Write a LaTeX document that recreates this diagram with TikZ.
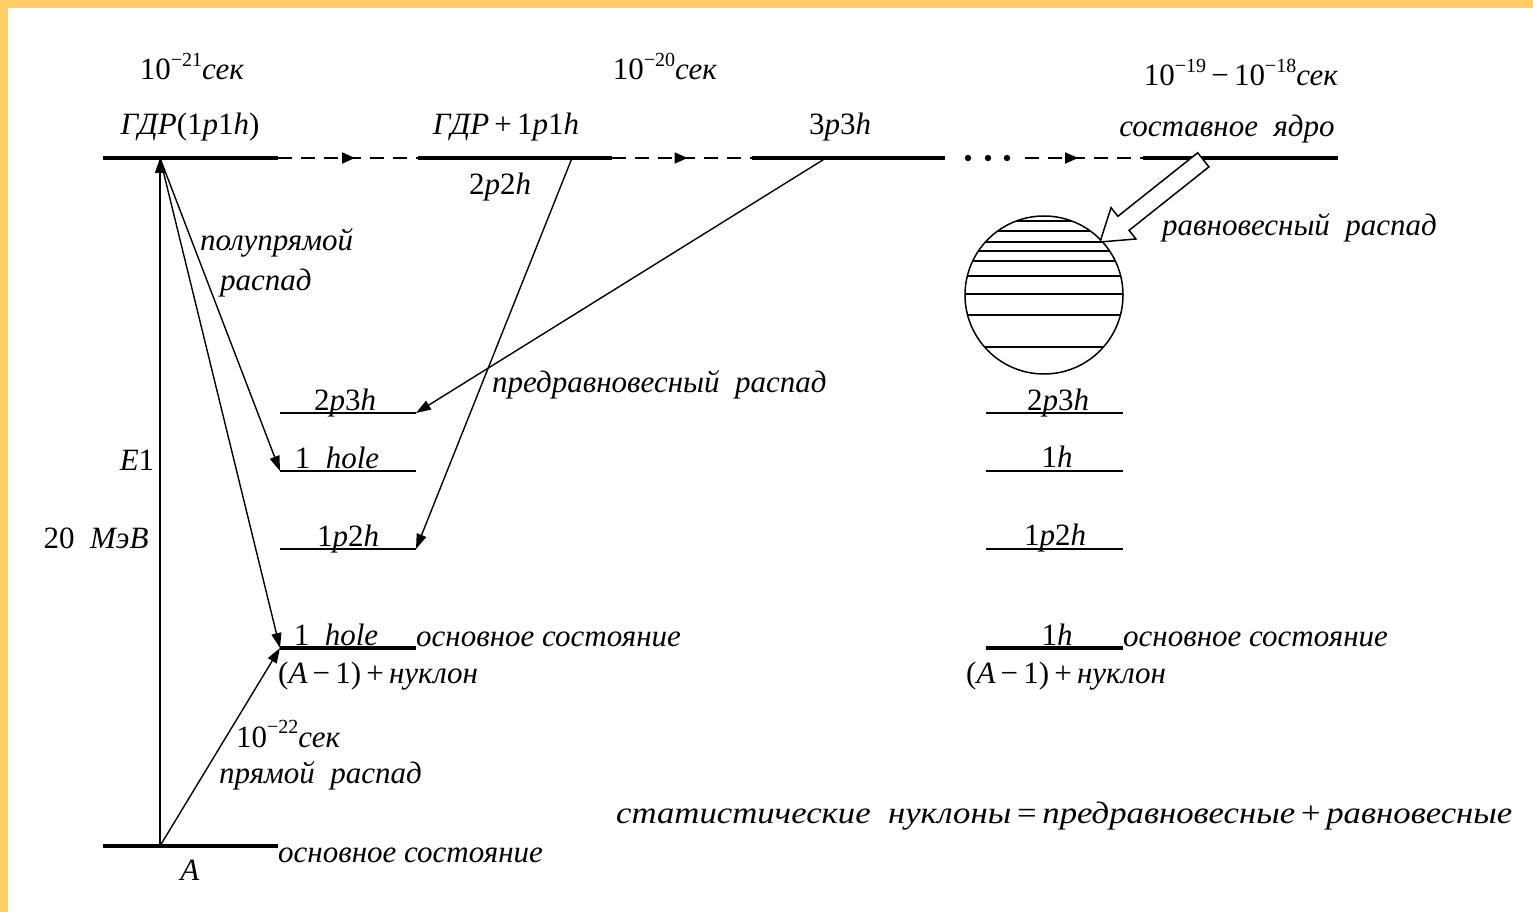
\documentclass[tikz,border=0pt]{standalone}
\usepackage{fontspec}
\setmainfont{Liberation Serif}
\usetikzlibrary{arrows.meta,calc,decorations.markings}
\definecolor{framecol}{HTML}{FFCC66}
\newcommand{\supx}[1]{\raisebox{0.42em}{\fontsize{20}{20}\selectfont #1}}
\begin{document}
\begin{tikzpicture}[x=1pt,y=-1pt,
  thicklevel/.style={line width=4pt},
  thinlevel/.style={line width=1.8pt},
  conn/.style={line width=1.4pt,-{Triangle[length=15pt,width=10pt]}},
  dashconn/.style={line width=1.8pt,dash pattern=on 14pt off 9pt,
     postaction={decorate},
     decoration={markings,mark=at position #1 with {\arrow{Triangle[length=13pt,width=11pt]}}}},
  lbl/.style={inner sep=0pt,anchor=base,font=\fontsize{31}{34}\selectfont},
  lbll/.style={lbl,anchor=base west},
  hatch/.style={line width=1.5pt}
  ]
\useasboundingbox (0,0) rectangle (1533,912);
\fill[framecol] (0,0) rectangle (1533,912);
\fill[white] (8,8) rectangle (1533,912);

% top level coordinates
\coordinate (L1a) at (103,158); \coordinate (L1b) at (278,158);
\coordinate (L2a) at (418,158); \coordinate (L2b) at (612,158);
\coordinate (L3a) at (752,158); \coordinate (L3b) at (945,158);
\coordinate (D0)  at (1025,158);
\coordinate (L4a) at (1143,158); \coordinate (L4b) at (1338,158);
\coordinate (v0) at (160,158);
\coordinate (g0) at (160,846);
\coordinate (G1) at (103,846); \coordinate (G2) at (278,846);
\coordinate (p2) at (572,158);
\coordinate (p3) at (826,158);
% left levels
\coordinate (La1) at (280,413); \coordinate (La2) at (416,413);
\coordinate (Lb1) at (280,471); \coordinate (Lb2) at (416,471);
\coordinate (Lc1) at (280,549); \coordinate (Lc2) at (416,549);
\coordinate (Ld1) at (280,648); \coordinate (Ld2) at (416,648);
% right levels
\coordinate (Ra1) at (986,413); \coordinate (Ra2) at (1123,413);
\coordinate (Rb1) at (986,471); \coordinate (Rb2) at (1123,471);
\coordinate (Rc1) at (986,549); \coordinate (Rc2) at (1123,549);
\coordinate (Rd1) at (986,648); \coordinate (Rd2) at (1123,648);

% top line
\draw[thicklevel] (L1a) -- (L1b);
\draw[thicklevel] (L2a) -- (L2b);
\draw[thicklevel] (L3a) -- (L3b);
\draw[thicklevel] (L4a) -- (L4b);
\draw[dashconn=0.55] (L1b) -- (L2a);
\draw[dashconn=0.54] (L2b) -- (L3a);
\draw[dashconn=0.45] (D0) -- (L4a);
\foreach \xx in {968,988,1007} \fill (\xx,158) circle (3.2);

% ground state
\draw[thicklevel] (G1) -- (G2);

% left levels
\draw[thinlevel] (La1) -- (La2);
\draw[thinlevel] (Lb1) -- (Lb2);
\draw[thinlevel] (Lc1) -- (Lc2);
\draw[thicklevel] (Ld1) -- (Ld2);
% right levels
\draw[thinlevel] (Ra1) -- (Ra2);
\draw[thinlevel] (Rb1) -- (Rb2);
\draw[thinlevel] (Rc1) -- (Rc2);
\draw[thicklevel] (Rd1) -- (Rd2);

% connectors
\draw[conn] (g0) -- (v0);
\draw[conn] (v0) -- (Lb1);
\draw[conn] (v0) -- (Ld1);
\draw[conn] (g0) -- (Ld1);
\draw[conn] (p2) -- (Lc2);
\draw[conn] (p3) -- (La2);

% compound nucleus
\node[circle,draw,line width=1.5pt,minimum size=158pt,inner sep=0pt] (nuc) at (1044,295) {};
\begin{scope}
\clip (1044,295) circle (79pt);
\foreach \yy in {221,231,242,251,261,276,294,315,347}
  \draw[hatch] (950,\yy) -- (1140,\yy);
\end{scope}

% hollow arrow
\coordinate (ptip) at (1100,242);
\coordinate (ptail) at (1203,160);
\begin{scope}[shift={(ptip)},rotate=218.5]
\filldraw[fill=white,line width=1.5pt,line join=miter]
  (0,0) -- (-30,20) -- (-30,9) -- (-132,9) -- (-132,-9) -- (-30,-9) -- (-30,-20) -- cycle;
\end{scope}

% labels top
\node[lbl] (t21) at (192,80) {10\supx{−21}\textit{сек}};
\node[lbl] (t20) at (665,80) {10\supx{−20}\textit{сек}};
\node[lbl] (t19) at (1241,86) {10\supx{−19}\,−\,10\supx{−18}\textit{сек}};
\node[lbl] (gdr) at (190,135) {\textit{ГДР}(1\textit{p}1\textit{h})};
\node[lbl] (gdr2) at (506,135) {\textit{ГДР}\,+\,1\textit{p}1\textit{h}};
\node[lbl] (s3) at (840,135) {3\textit{p}3\textit{h}};
\node[lbl] (s2) at (500,195) {2\textit{p}2\textit{h}};
\node[lbl] (cn) at (1227,137) {\textit{составное\enspace ядро}};
\node[lbll] (eqd) at (1162,235) {\textit{равновесный\enspace распад}};
\node[lbll] (sd1) at (200,250) {\textit{полупрямой}};
\node[lbll] (sd2) at (220,290) {\textit{распад}};
\node[lbll] (ped) at (492,392) {\textit{предравновесный\enspace распад}};

% left level labels
\node[lbl] (la) at (345,410) {2\textit{p}3\textit{h}};
\node[lbl] (lb) at (337,468) {1\enspace\textit{hole}};
\node[lbl] (lc) at (348,546) {1\textit{p}2\textit{h}};
\node[lbl] (ld) at (336,645) {1\enspace\textit{hole}};
\node[lbll] (ldg) at (416,646) {\textit{основное состояние}};
\node[lbll] (ldn) at (278,683) {(\textit{A}\,−\,1)\,+\,\textit{нуклон}};
\node[lbll] (t22) at (236,747) {10\supx{−22}\textit{сек}};
\node[lbll] (dd) at (219,783) {\textit{прямой\enspace распад}};
\node[lbll] (gg) at (278,862) {\textit{основное состояние}};
\node[lbl] (aa) at (190,880) {\textit{A}};
\node[lbl] (e1) at (137,470) {\textit{E}1};
\node[lbl] (mev) at (96,548) {20\enspace\textit{МэВ}};

% right level labels
\node[lbl] (ra) at (1058,410) {2\textit{p}3\textit{h}};
\node[lbl] (rb) at (1057,467) {1\textit{h}};
\node[lbl] (rc) at (1055,545) {1\textit{p}2\textit{h}};
\node[lbl] (rd) at (1057,645) {1\textit{h}};
\node[lbll] (rdg) at (1123,646) {\textit{основное состояние}};
\node[lbll] (rdn) at (966,683) {(\textit{A}\,−\,1)\,+\,\textit{нуклон}};

% formula
\node[lbll] (form) at (616,823) {\scalebox{1.12}[1]{\textit{статистические\enspace нуклоны}\,=\,\textit{предравновесные}\,+\,\textit{равновесные}}};
\end{tikzpicture}
\end{document}
